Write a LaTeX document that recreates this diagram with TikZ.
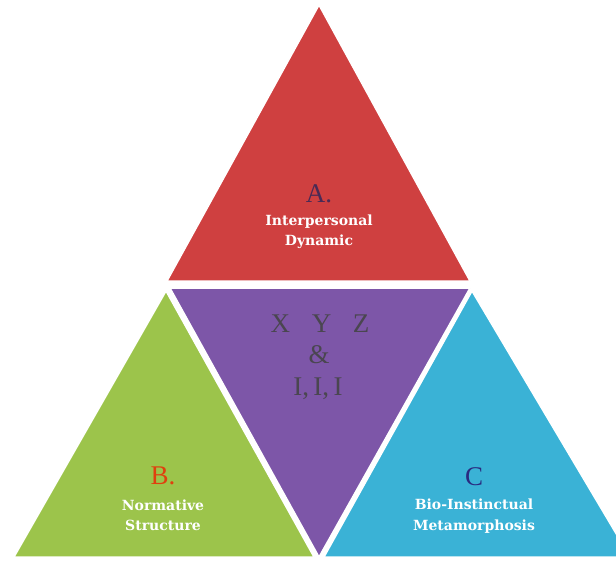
\documentclass[tikz,border=0pt]{standalone}
\usepackage{fontspec}
\setmainfont{Liberation Serif}
\newfontfamily\lblfont{DejaVu Serif}
\definecolor{cred}{HTML}{CF4040}
\definecolor{cpurple}{HTML}{7D56A8}
\definecolor{cgreen}{HTML}{9CC44B}
\definecolor{cblue}{HTML}{3AB2D6}
\definecolor{cletA}{HTML}{4A2A55}
\definecolor{cletB}{HTML}{E0400E}
\definecolor{cletC}{HTML}{2A2A80}
\definecolor{cxyz}{HTML}{4A4650}
\tikzset{
  tri/.style={draw=white, line width=1.5pt, line join=miter},
  letter/.style={font=\fontsize{27}{30}\selectfont, inner sep=0pt, anchor=base},
  label/.style={font=\lblfont\bfseries\fontsize{14}{20}\selectfont, text=white, inner sep=0pt, anchor=base},
  mid/.style={font=\fontsize{27}{30}\selectfont, text=cxyz, inner sep=0pt, anchor=base}
}
\begin{document}
\begin{tikzpicture}[x=1pt,y=-1pt]
\useasboundingbox (0,0) rectangle (616,562);
\begin{scope}
\clip (0,0) rectangle (616,562);
\fill[white] (0,0) rectangle (616,562);
% triangles
\filldraw[tri, fill=cred] (319,5) -- (167,281) -- (470,281) -- cycle;
\filldraw[tri, fill=cpurple] (170,288) -- (470,288) -- (319,557) -- cycle;
\filldraw[tri, fill=cgreen] (166,291) -- (14,557) -- (314,557) -- cycle;
\filldraw[tri, fill=cblue] (472,291) -- (324,557) -- (630,557) -- cycle;
\end{scope}
% top
\node[letter, text=cletA] (la) at (319,202) {A.};
\node[label] (ta1) at (319,225) {Interpersonal};
\node[label] (ta2) at (319,245) {Dynamic};
% middle
\node[mid] (xyz) at (320,332) {X\hspace{0.8em}Y\hspace{0.8em}Z};
\node[mid] (amp) at (319,363) {\&};
\node[mid] (iii) at (318,395) {I,\,I,\,I};
% left
\node[letter, text=cletB] (lb) at (163,484) {B.};
\node[label] (tb1) at (163,510) {Normative};
\node[label] (tb2) at (163,530) {Structure};
% right
\node[letter, text=cletC] (lc) at (474,485) {C};
\node[label] (tc1) at (474,509) {Bio-Instinctual};
\node[label] (tc2) at (474,530) {Metamorphosis};
\end{tikzpicture}
\end{document}
